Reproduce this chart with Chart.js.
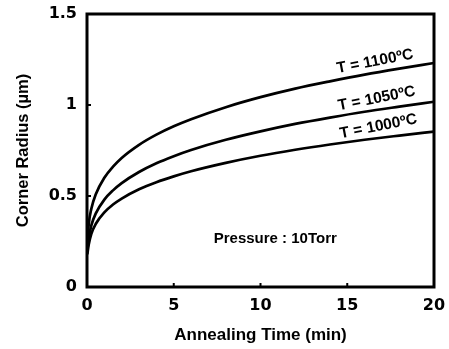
<!DOCTYPE html>
<html>
<head>
<meta charset="utf-8">
<script src="https://cdn.jsdelivr.net/npm/chart.js@4"></script>
<style>
  html, body { margin: 0; padding: 0; background: #fff; }
  #wrap { width: 449px; height: 349px; }
</style>
</head>
<body>
<div id="wrap"><canvas id="radiusChart" width="449" height="349"></canvas></div>
<script>
// Corner radius vs annealing time, three temperatures
const times = [0.02, 0.1, 0.25, 0.5, 1, 1.5, 2, 3, 4, 5, 6, 8, 10, 12, 14, 16, 18, 20];
const r1100 = [0.235, 0.345, 0.43, 0.508, 0.60, 0.661, 0.709, 0.781, 0.837, 0.883, 0.922, 0.988, 1.043, 1.09, 1.13, 1.167, 1.20, 1.231];
const r1050 = [0.20, 0.269, 0.339, 0.403, 0.48, 0.531, 0.571, 0.632, 0.680, 0.719, 0.753, 0.809, 0.855, 0.896, 0.931, 0.963, 0.991, 1.018];
const r1000 = [0.18, 0.233, 0.292, 0.346, 0.41, 0.453, 0.486, 0.537, 0.576, 0.608, 0.636, 0.682, 0.721, 0.754, 0.783, 0.809, 0.832, 0.854];
const xTicks = [0, 5, 10, 15, 20];
const yTicks = [0, 0.5, 1, 1.5];

const FONT = '"Liberation Sans", Arial, sans-serif';
const TICK_FONT = '"DejaVu Sans", sans-serif';

function toPoints(ys) {
    return times.map((t, i) => ({ x: t, y: ys[i] }));
}

// stop label overflow from shrinking the plot area
function noPadding(s) {
    s.paddingTop = 0;
    s.paddingBottom = 0;
    s.paddingLeft = 0;
    s.paddingRight = 0;
}

// frame, inward tick marks and text notes
const framePlugin = {
    id: 'frame',
    afterDraw(chart) {
        const ctx = chart.ctx;
        const a = chart.chartArea;
        const xs = chart.scales.x;
        const ys = chart.scales.y;
        ctx.save();
        ctx.strokeStyle = '#000';
        ctx.lineWidth = 3;
        ctx.strokeRect(a.left, a.top, a.right - a.left, a.bottom - a.top);
        ctx.lineWidth = 2;
        xTicks.forEach(v => {
            const px = xs.getPixelForValue(v);
            ctx.beginPath();
            ctx.moveTo(px, a.bottom);
            ctx.lineTo(px, a.bottom - 4);
            ctx.stroke();
        });
        yTicks.forEach(v => {
            const py = ys.getPixelForValue(v);
            ctx.beginPath();
            ctx.moveTo(a.left, py);
            ctx.lineTo(a.left + 4, py);
            ctx.stroke();
        });

        ctx.fillStyle = '#000';
        ctx.font = 'bold 15.5px ' + FONT;
        ctx.textAlign = 'center';
        ctx.textBaseline = 'middle';
        const notes = [
            ['T = 1100ºC', 16.6, 1.239],
            ['T = 1050ºC', 16.7, 1.035],
            ['T = 1000ºC', 16.8, 0.882]
        ];
        notes.forEach(n => {
            ctx.save();
            ctx.translate(xs.getPixelForValue(n[1]), ys.getPixelForValue(n[2]));
            ctx.rotate(-11 * Math.PI / 180);
            ctx.fillText(n[0], 0, 0);
            ctx.restore();
        });
        ctx.font = 'bold 15px ' + FONT;
        ctx.fillText('Pressure : 10Torr', xs.getPixelForValue(10.85), ys.getPixelForValue(0.266));
        ctx.restore();
    }
};

const ctxRadius = document.getElementById('radiusChart').getContext('2d');
const radiusChart = new Chart(ctxRadius, {
    type: 'line',
    data: {
        datasets: [{
            label: 'T = 1100ºC',
            data: toPoints(r1100),
            borderColor: '#000',
            borderWidth: 2.7,
            pointRadius: 0,
            cubicInterpolationMode: 'monotone',
            fill: false
        }, {
            label: 'T = 1050ºC',
            data: toPoints(r1050),
            borderColor: '#000',
            borderWidth: 2.7,
            pointRadius: 0,
            cubicInterpolationMode: 'monotone',
            fill: false
        }, {
            label: 'T = 1000ºC',
            data: toPoints(r1000),
            borderColor: '#000',
            borderWidth: 2.7,
            pointRadius: 0,
            cubicInterpolationMode: 'monotone',
            fill: false
        }]
    },
    options: {
        responsive: false,
        animation: false,
        layout: { padding: { top: 14, right: 15, left: 0, bottom: 0 } },
        plugins: {
            legend: { display: false },
            tooltip: { enabled: false }
        },
        scales: {
            x: {
                type: 'linear',
                min: 0,
                max: 20,
                afterBuildTicks: s => { s.ticks = xTicks.map(v => ({ value: v })); },
                afterFit: s => { s.height = 62; noPadding(s); },
                grid: { display: false, drawTicks: false },
                border: { display: false },
                ticks: {
                    color: '#000',
                    padding: 9,
                    maxRotation: 0,
                    font: { family: TICK_FONT, size: 16, weight: 'bold' }
                },
                title: {
                    display: true,
                    text: 'Annealing Time (min)',
                    color: '#000',
                    padding: { top: 0, bottom: 3 },
                    font: { family: FONT, size: 17, weight: 'bold' }
                }
            },
            y: {
                min: 0,
                max: 1.5,
                afterBuildTicks: s => { s.ticks = yTicks.map(v => ({ value: v })); },
                afterFit: s => { s.width = 87; noPadding(s); },
                grid: { display: false, drawTicks: false },
                border: { display: false },
                ticks: {
                    color: '#000',
                    padding: 10,
                    font: { family: TICK_FONT, size: 16, weight: 'bold' },
                    callback: v => String(v)
                },
                title: {
                    display: true,
                    text: 'Corner Radius (µm)',
                    color: '#000',
                    padding: { top: 14, bottom: 0 },
                    font: { family: FONT, size: 16.5, weight: 'bold' }
                }
            }
        }
    },
    plugins: [framePlugin]
});
</script>
</body>
</html>
